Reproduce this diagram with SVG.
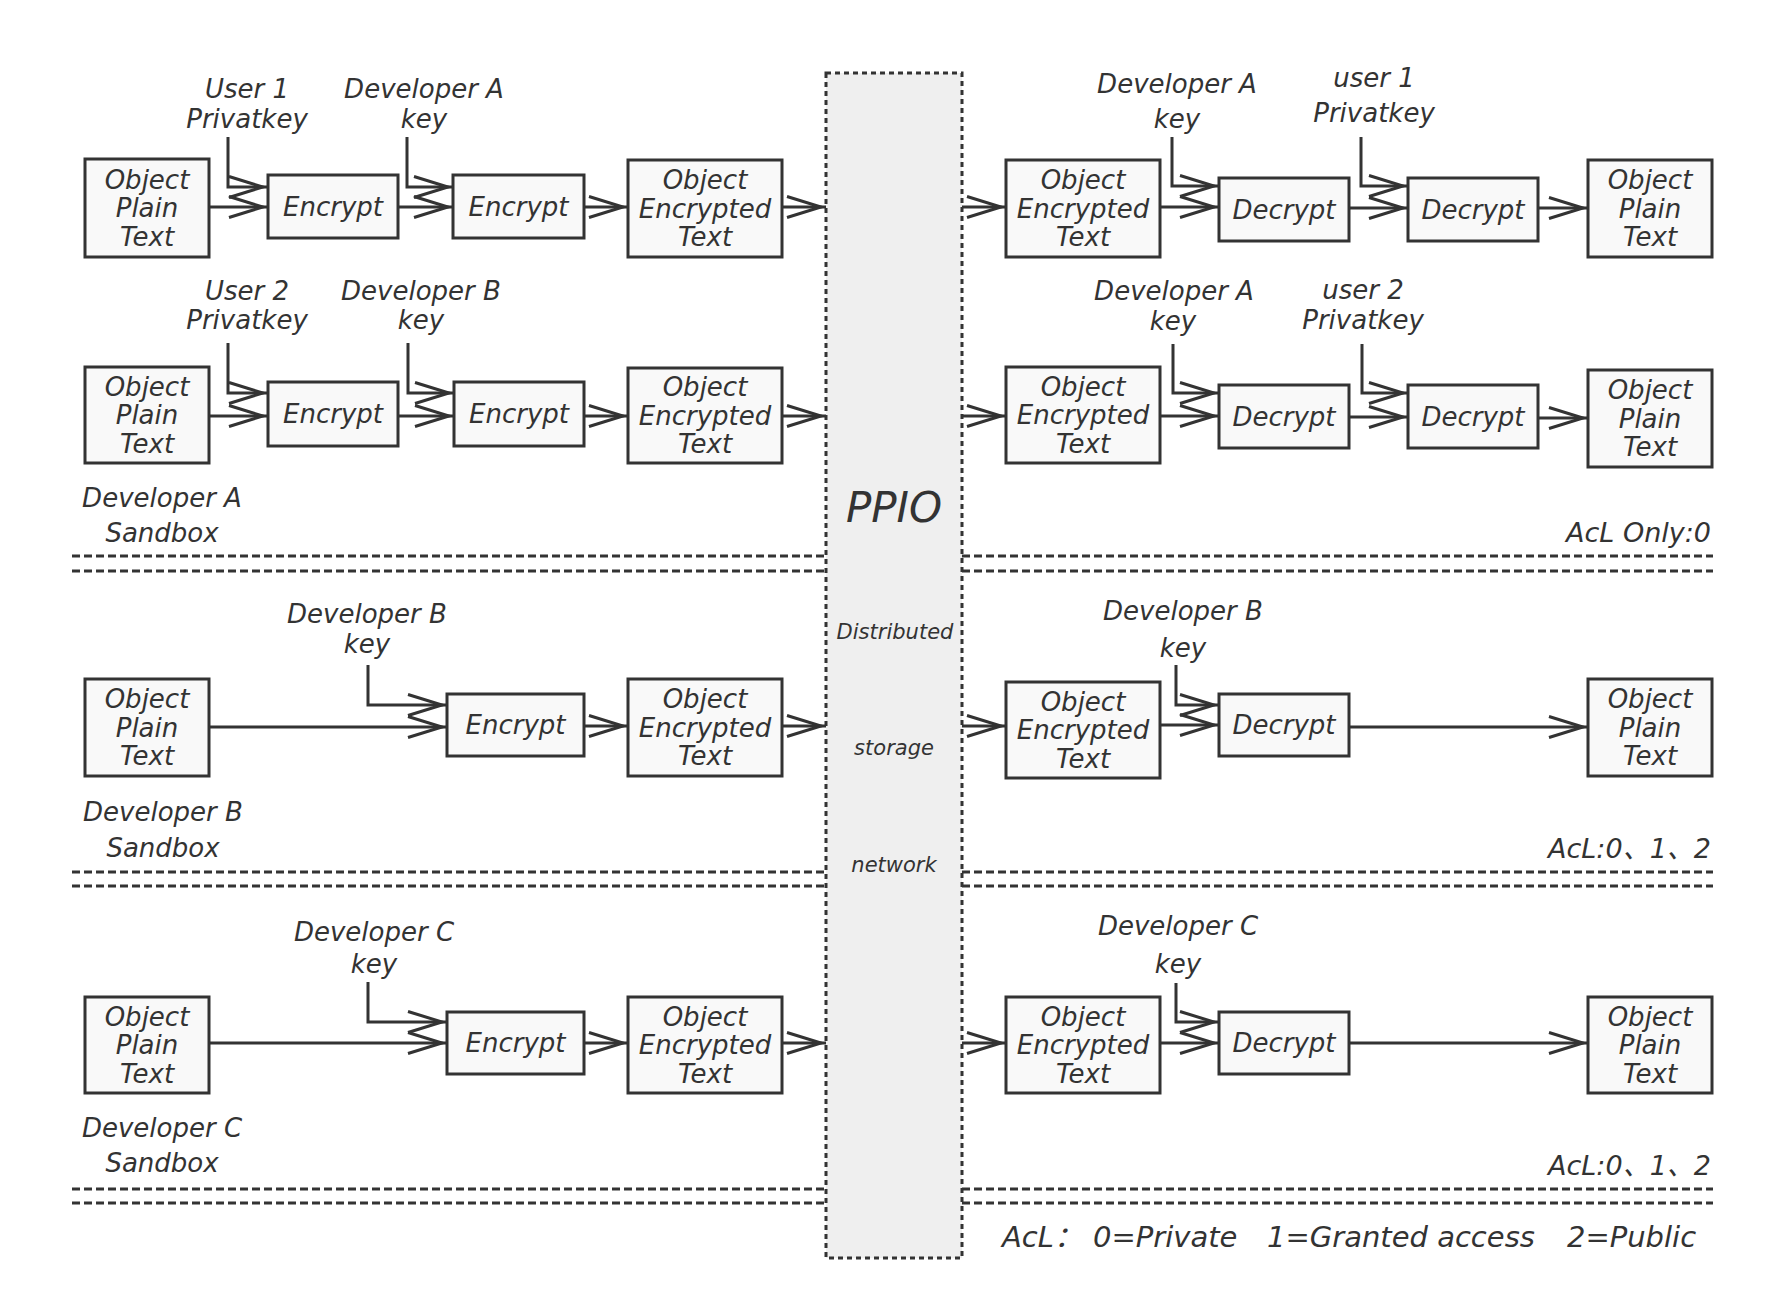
<svg xmlns="http://www.w3.org/2000/svg" width="1785" height="1314" viewBox="0 0 1785 1314">
<style>
.box{fill:#f9f9f9;stroke:#333;stroke-width:3}
.t{font-family:"DejaVu Sans","Noto Sans CJK SC",sans-serif;font-style:italic;font-size:26px;fill:#333;text-anchor:middle}
.acl{font-size:27px;text-anchor:end}
.small{font-size:21px}
.c{fill:none;stroke:#333;stroke-width:3;marker-end:url(#arr)}
.sep{fill:none;stroke:#333;stroke-width:3;stroke-dasharray:8 4}
</style>
<defs>
<marker id="arr" markerUnits="userSpaceOnUse" markerWidth="50" markerHeight="30" viewBox="-45 -15 50 30" refX="0" refY="0" orient="auto" overflow="visible">
<path d="M-39,-10.5 L-5,0 L-39,10.5" fill="none" stroke="#333" stroke-width="3"/>
</marker>
</defs>
<rect width="1785" height="1314" fill="#ffffff"/>

<g id="separators">
<path class="sep" d="M72,556 H826 M72,571 H826 M962,556 H1713 M962,571 H1713"/>
<path class="sep" d="M72,872 H826 M72,886 H826 M962,872 H1713 M962,886 H1713"/>
<path class="sep" d="M72,1189 H826 M72,1203 H826 M962,1189 H1713 M962,1203 H1713"/>
</g>

<g id="ppio">
<rect x="826" y="73" width="136" height="1185" fill="#efefef" stroke="#333" stroke-width="3" stroke-dasharray="5 4"/>
<text class="t" x="894" y="522" style="font-size:42px">PPIO</text>
<text class="t small" x="895" y="639">Distributed</text>
<text class="t small" x="894" y="755">storage</text>
<text class="t small" x="894" y="872">network</text>
</g>

<g id="connectors">
<path class="c" d="M209,207 H268"/>
<path class="c" d="M398,207 H453"/>
<path class="c" d="M584,207 H628"/>
<path class="c" d="M782,207 H826"/>
<path class="c" d="M228,137 V187 H268"/>
<path class="c" d="M407,137 V187 H453"/>
<path class="c" d="M962,207 H1006"/>
<path class="c" d="M1160,207 H1219"/>
<path class="c" d="M1349,208 H1408"/>
<path class="c" d="M1538,208 H1588"/>
<path class="c" d="M1172,137 V186 H1219"/>
<path class="c" d="M1361,137 V186 H1408"/>

<path class="c" d="M209,416 H268"/>
<path class="c" d="M398,416 H454"/>
<path class="c" d="M584,416 H628"/>
<path class="c" d="M782,416 H826"/>
<path class="c" d="M228,343 V393 H268"/>
<path class="c" d="M408,343 V393 H454"/>
<path class="c" d="M962,416 H1006"/>
<path class="c" d="M1160,416 H1219"/>
<path class="c" d="M1349,417 H1408"/>
<path class="c" d="M1538,418 H1588"/>
<path class="c" d="M1173,344 V393 H1219"/>
<path class="c" d="M1362,344 V393 H1408"/>

<path class="c" d="M209,727 H447"/>
<path class="c" d="M584,726 H628"/>
<path class="c" d="M782,726 H826"/>
<path class="c" d="M368,665 V705 H447"/>
<path class="c" d="M962,726 H1006"/>
<path class="c" d="M1160,725 H1219"/>
<path class="c" d="M1349,727 H1588"/>
<path class="c" d="M1176,665 V705 H1219"/>

<path class="c" d="M209,1043 H447"/>
<path class="c" d="M584,1043 H628"/>
<path class="c" d="M782,1043 H826"/>
<path class="c" d="M368,982 V1022 H447"/>
<path class="c" d="M962,1043 H1006"/>
<path class="c" d="M1160,1043 H1219"/>
<path class="c" d="M1349,1043 H1588"/>
<path class="c" d="M1176,983 V1022 H1219"/>
</g>

<g id="labels">
<text class="t" x="247" y="98">User 1</text>
<text class="t" x="247" y="128">Privatkey</text>
<text class="t" x="424" y="98">Developer A</text>
<text class="t" x="424" y="128">key</text>
<text class="t" x="1177" y="93">Developer A</text>
<text class="t" x="1177" y="128">key</text>
<text class="t" x="1374" y="87">user 1</text>
<text class="t" x="1374" y="122">Privatkey</text>

<text class="t" x="247" y="300">User 2</text>
<text class="t" x="247" y="329">Privatkey</text>
<text class="t" x="421" y="300">Developer B</text>
<text class="t" x="421" y="329">key</text>
<text class="t" x="1174" y="300">Developer A</text>
<text class="t" x="1173" y="330">key</text>
<text class="t" x="1363" y="299">user 2</text>
<text class="t" x="1363" y="329">Privatkey</text>

<text class="t" x="367" y="623">Developer B</text>
<text class="t" x="367" y="653">key</text>
<text class="t" x="1183" y="620">Developer B</text>
<text class="t" x="1183" y="657">key</text>

<text class="t" x="374" y="941">Developer C</text>
<text class="t" x="374" y="973">key</text>
<text class="t" x="1178" y="935">Developer C</text>
<text class="t" x="1178" y="973">key</text>

<text class="t" x="162" y="507">Developer A</text>
<text class="t" x="162" y="542">Sandbox</text>
<text class="t" x="163" y="821">Developer B</text>
<text class="t" x="163" y="857">Sandbox</text>
<text class="t" x="162" y="1137">Developer C</text>
<text class="t" x="162" y="1172">Sandbox</text>

<text class="t acl" x="1711" y="542">AcL Only:0</text>
<text class="t acl" x="1711" y="858">AcL:0、1、2</text>
<text class="t acl" x="1711" y="1175">AcL:0、1、2</text>

<text class="t" y="1247" style="font-size:29px;text-anchor:start"><tspan x="1002">AcL：</tspan><tspan x="1093">0=Private</tspan><tspan x="1267">1=Granted access</tspan><tspan x="1567">2=Public</tspan></text>
</g>

<g id="L1P"><rect class="box" x="85" y="159" width="124" height="98"/><text class="t" x="147"><tspan x="147" y="188.5">Object</tspan><tspan x="147" y="217">Plain</tspan><tspan x="147" y="245.5">Text</tspan></text></g>
<g id="L1E1"><rect class="box" x="268" y="175" width="130" height="63"/><text class="t" x="333" y="215.5">Encrypt</text></g>
<g id="L1E2"><rect class="box" x="453" y="175" width="131" height="63"/><text class="t" x="518.5" y="215.5">Encrypt</text></g>
<g id="L1C"><rect class="box" x="628" y="160" width="154" height="97"/><text class="t"><tspan x="705" y="189">Object</tspan><tspan x="705" y="217.5">Encrypted</tspan><tspan x="705" y="246">Text</tspan></text></g>
<g id="R1C"><rect class="box" x="1006" y="160" width="154" height="97"/><text class="t"><tspan x="1083" y="189">Object</tspan><tspan x="1083" y="217.5">Encrypted</tspan><tspan x="1083" y="246">Text</tspan></text></g>
<g id="R1D1"><rect class="box" x="1219" y="178" width="130" height="63"/><text class="t" x="1284" y="218.5">Decrypt</text></g>
<g id="R1D2"><rect class="box" x="1408" y="178" width="130" height="63"/><text class="t" x="1473" y="218.5">Decrypt</text></g>
<g id="R1P"><rect class="box" x="1588" y="160" width="124" height="97"/><text class="t"><tspan x="1650" y="189">Object</tspan><tspan x="1650" y="217.5">Plain</tspan><tspan x="1650" y="246">Text</tspan></text></g>

<g id="L2P"><rect class="box" x="85" y="367" width="124" height="96"/><text class="t"><tspan x="147" y="395.5">Object</tspan><tspan x="147" y="424">Plain</tspan><tspan x="147" y="452.5">Text</tspan></text></g>
<g id="L2E1"><rect class="box" x="268" y="382" width="130" height="64"/><text class="t" x="333" y="423">Encrypt</text></g>
<g id="L2E2"><rect class="box" x="454" y="382" width="130" height="64"/><text class="t" x="519" y="423">Encrypt</text></g>
<g id="L2C"><rect class="box" x="628" y="368" width="154" height="95"/><text class="t"><tspan x="705" y="396">Object</tspan><tspan x="705" y="424.5">Encrypted</tspan><tspan x="705" y="453">Text</tspan></text></g>
<g id="R2C"><rect class="box" x="1006" y="367" width="154" height="96"/><text class="t"><tspan x="1083" y="395.5">Object</tspan><tspan x="1083" y="424">Encrypted</tspan><tspan x="1083" y="452.5">Text</tspan></text></g>
<g id="R2D1"><rect class="box" x="1219" y="385" width="130" height="63"/><text class="t" x="1284" y="425.5">Decrypt</text></g>
<g id="R2D2"><rect class="box" x="1408" y="385" width="130" height="63"/><text class="t" x="1473" y="425.5">Decrypt</text></g>
<g id="R2P"><rect class="box" x="1588" y="370" width="124" height="97"/><text class="t"><tspan x="1650" y="399">Object</tspan><tspan x="1650" y="427.5">Plain</tspan><tspan x="1650" y="456">Text</tspan></text></g>

<g id="L3P"><rect class="box" x="85" y="679" width="124" height="97"/><text class="t"><tspan x="147" y="708">Object</tspan><tspan x="147" y="736.5">Plain</tspan><tspan x="147" y="765">Text</tspan></text></g>
<g id="L3E"><rect class="box" x="447" y="694" width="137" height="62"/><text class="t" x="515.5" y="734">Encrypt</text></g>
<g id="L3C"><rect class="box" x="628" y="679" width="154" height="97"/><text class="t"><tspan x="705" y="708">Object</tspan><tspan x="705" y="736.5">Encrypted</tspan><tspan x="705" y="765">Text</tspan></text></g>
<g id="R3C"><rect class="box" x="1006" y="682" width="154" height="96"/><text class="t"><tspan x="1083" y="710.5">Object</tspan><tspan x="1083" y="739">Encrypted</tspan><tspan x="1083" y="767.5">Text</tspan></text></g>
<g id="R3D"><rect class="box" x="1219" y="694" width="130" height="62"/><text class="t" x="1284" y="734">Decrypt</text></g>
<g id="R3P"><rect class="box" x="1588" y="679" width="124" height="97"/><text class="t"><tspan x="1650" y="708">Object</tspan><tspan x="1650" y="736.5">Plain</tspan><tspan x="1650" y="765">Text</tspan></text></g>

<g id="L4P"><rect class="box" x="85" y="997" width="124" height="96"/><text class="t"><tspan x="147" y="1025.5">Object</tspan><tspan x="147" y="1054">Plain</tspan><tspan x="147" y="1082.5">Text</tspan></text></g>
<g id="L4E"><rect class="box" x="447" y="1012" width="137" height="62"/><text class="t" x="515.5" y="1052">Encrypt</text></g>
<g id="L4C"><rect class="box" x="628" y="997" width="154" height="96"/><text class="t"><tspan x="705" y="1025.5">Object</tspan><tspan x="705" y="1054">Encrypted</tspan><tspan x="705" y="1082.5">Text</tspan></text></g>
<g id="R4C"><rect class="box" x="1006" y="997" width="154" height="96"/><text class="t"><tspan x="1083" y="1025.5">Object</tspan><tspan x="1083" y="1054">Encrypted</tspan><tspan x="1083" y="1082.5">Text</tspan></text></g>
<g id="R4D"><rect class="box" x="1219" y="1012" width="130" height="62"/><text class="t" x="1284" y="1052">Decrypt</text></g>
<g id="R4P"><rect class="box" x="1588" y="997" width="124" height="96"/><text class="t"><tspan x="1650" y="1025.5">Object</tspan><tspan x="1650" y="1054">Plain</tspan><tspan x="1650" y="1082.5">Text</tspan></text></g>
</svg>
